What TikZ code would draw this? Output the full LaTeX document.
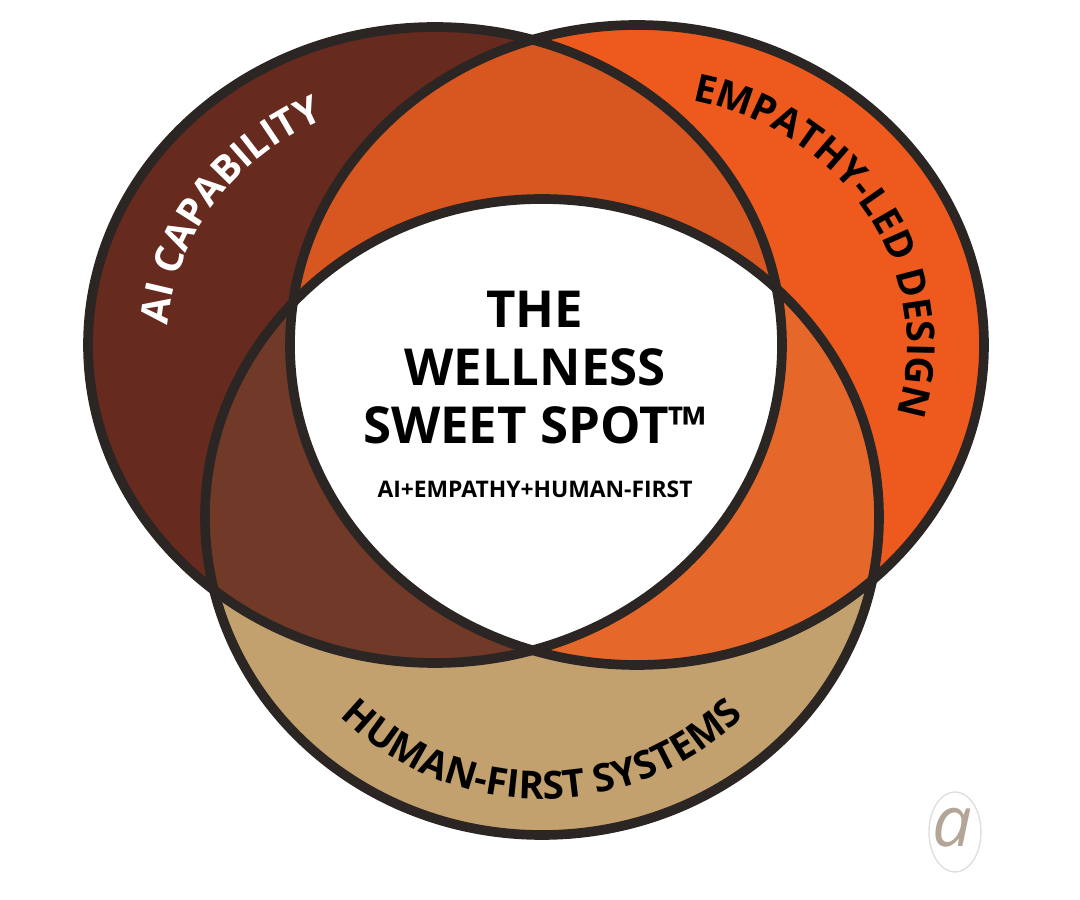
\documentclass[tikz,border=0pt]{standalone}
\usepackage{fontspec}
\setmainfont{Open Sans}
\usetikzlibrary{decorations.text,positioning}
\definecolor{aibrown}{HTML}{662A1E}
\definecolor{empathy}{HTML}{EE5A1E}
\definecolor{human}{HTML}{C2A16E}
\definecolor{aiempathy}{HTML}{D8561F}
\definecolor{aihuman}{HTML}{713A28}
\definecolor{empathyhuman}{HTML}{E5682A}
\definecolor{rim}{HTML}{2B2523}
\tikzset{
  every ring/.style={line width=5.5pt, draw=rim},
  ring label/.style={decorate, decoration={text along path, text align=center, text color=#1}},
  centre text/.style={font=\bfseries\fontsize{29}{33}\selectfont, align=center}
}
\begin{document}
\begin{tikzpicture}[x=0.02cm, y=0.02cm]
\useasboundingbox (0,0) rectangle (1080,900);

\def\ringA{(435,555) ellipse [x radius=347, y radius=318]}
\def\ringE{(637,555) ellipse [x radius=347, y radius=320]}
\def\ringH{(542,383) ellipse [x radius=337, y radius=318]}

% single rings
\fill [aibrown] \ringA;
\fill [empathy] \ringE;
\fill [human] \ringH;

% overlaps
\begin{scope} \clip \ringA; \fill [aiempathy] \ringE; \end{scope}
\begin{scope} \clip \ringA; \fill [aihuman] \ringH; \end{scope}
\begin{scope} \clip \ringE; \fill [empathyhuman] \ringH; \end{scope}
\begin{scope} \clip \ringA; \clip \ringE; \fill [white] \ringH; \end{scope}

\draw [every ring] \ringA;
\draw [every ring] \ringE;
\draw [every ring] \ringH;

% labels on the rings
\path [ring label=white, decoration={text={|\bfseries\fontsize{22}{26}\selectfont|AI CAPABILITY}}]
  (435,555) ++(178:268 and 248) arc [start angle=178, end angle=112, x radius=268, y radius=248];
\path [ring label=black, decoration={text={|\bfseries\fontsize{22}{26}\selectfont|EMPATHY-LED DESIGN}}]
  (637,555) ++(80:270 and 250) arc [start angle=80, end angle=-18, x radius=270, y radius=250];
\path [ring label=black, decoration={text={|\bfseries\fontsize{22}{26}\selectfont|HUMAN-FIRST SYSTEMS}}]
  (542,383) ++(218:285 and 282) arc [start angle=218, end angle=322, x radius=285, y radius=282];

% centre
\node [centre text] (sweet) at (535,532) {THE\\WELLNESS\\SWEET SPOT™};
\node [font=\bfseries\fontsize{13}{15}\selectfont, below=14pt of sweet] (formula) {AI+EMPATHY+HUMAN-FIRST};

% mark
\draw [gray!25, line width=0.8pt] (955,68) ellipse [x radius=26, y radius=40];
\node [text=brown!30!gray!70, font=\itshape\fontsize{40}{40}\selectfont] (mark) at (952,72) {a};
\end{tikzpicture}
\end{document}
